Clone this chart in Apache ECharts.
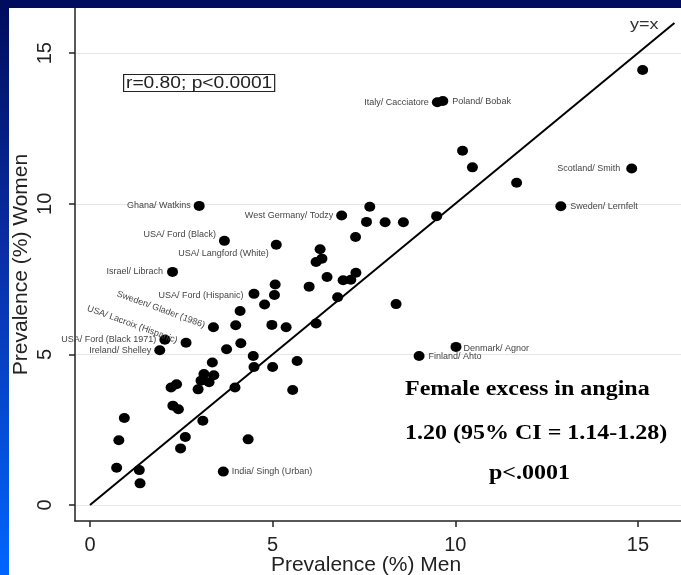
<!DOCTYPE html>
<html>
<head>
    <meta charset="UTF-8">
    <title></title>
    <style>
        body {
            margin: 0;
            width: 681px;
            height: 575px;
            overflow: hidden;
            background: linear-gradient(to bottom, #000c5c 0%, #0a2fa8 45%, #0066ff 100%);
        }
        #container {
            position: absolute;
            left: 9px;
            top: 8px;
            width: 672px;
            height: 567px;
            background: #fff;
        }
    </style>
</head>
<body>
    <div id="container"></div>
    <script src="https://cdn.jsdelivr.net/npm/echarts@6/dist/echarts.min.js"></script>
    <script>
        // prevalence of angina (%), one entry per study
        var menPrev = [15.13, 9.51, 9.66, 10.20, 10.47, 11.68, 14.83, 12.89, 9.49, 2.99,
            6.89, 7.66, 7.57, 8.08, 8.58, 7.27, 3.68, 5.10, 6.30, 6.35,
            6.19, 6.49, 7.28, 6.93, 7.14, 2.26, 5.07, 6.00, 4.49, 5.05,
            6.78, 4.78, 8.38, 4.11, 3.38, 3.99, 4.98, 5.37, 6.19, 2.63,
            2.05, 1.91, 3.74, 4.13, 4.47, 3.35, 4.49, 5.00, 5.67, 5.55,
            10.02, 9.01, 3.12, 3.39, 3.04, 3.26, 2.96, 2.37, 2.22, 3.97,
            2.27, 2.42, 0.94, 3.09, 0.79, 2.61, 2.48, 4.33, 0.73, 1.35,
            1.37, 3.65];
        var womenPrev = [14.44, 13.37, 13.41, 11.76, 11.21, 10.70, 11.17, 9.92, 9.59, 9.93,
            9.61, 9.90, 9.40, 9.39, 9.39, 8.90, 8.77, 8.64, 8.49, 8.18,
            8.07, 7.57, 7.71, 7.46, 7.48, 7.74, 7.32, 7.25, 7.01, 6.97,
            6.90, 6.66, 6.67, 6.44, 5.90, 5.97, 5.98, 5.90, 6.03, 5.39,
            5.49, 5.14, 5.17, 5.37, 4.95, 4.73, 4.58, 4.58, 4.78, 3.82,
            5.25, 4.95, 4.35, 4.31, 4.13, 4.08, 3.84, 4.01, 3.90, 3.90,
            3.30, 3.18, 2.89, 2.80, 2.15, 2.26, 1.88, 2.18, 1.24, 1.16,
            0.72, 1.11];
        var studyNames = ['', 'Italy/ Cacciatore', 'Poland/ Bobak', '', '', '', 'Scotland/ Smith', 'Sweden/ Lernfelt', '', 'Ghana/ Watkins',
            'West Germany/ Todzy', '', '', '', '', '', 'USA/ Ford (Black)', 'USA/ Langford (White)', '', '',
            '', '', '', '', '', 'Israel/ Librach', '', '', 'USA/ Ford (Hispanic)', '',
            '', '', '', '', 'Sweden/ Glader (1986)', '', '', '', '', 'USA/ Lacroix (Hispanic)',
            'USA/ Ford (Black 1971)', 'Ireland/ Shelley', '', '', '', '', '', '', '', '',
            'Denmark/ Agnor', 'Finland/ Ahto', '', '', '', '', '', '', '', '',
            '', '', '', '', '', '', '', '', '', '',
            '', 'India/ Singh (Urban)'];
        var xTicks = [0, 5, 10, 15];
        var yTicks = [0, 5, 10, 15];
        var identityLine = [[0, 0], [16, 16]];

        // where each study label sits next to its dot
        var labelPlace = {
            'Italy/ Cacciatore': { position: 'left', distance: 3 },
            'Poland/ Bobak': { position: 'right', distance: 4 },
            'Scotland/ Smith': { position: 'left', distance: 6 },
            'Sweden/ Lernfelt': { position: 'right', distance: 4 },
            'Ghana/ Watkins': { position: 'left', distance: 3 },
            'West Germany/ Todzy': { position: 'left', distance: 3 },
            'USA/ Ford (Black)': { position: 'left', distance: 3, offset: [0, -6] },
            'USA/ Langford (White)': { position: 'left', distance: 2, offset: [0, 9] },
            'Israel/ Librach': { position: 'left', distance: 4 },
            'USA/ Ford (Hispanic)': { position: 'left', distance: 5, offset: [0, 2] },
            'Sweden/ Glader (1986)': { position: 'left', distance: 4, rotate: -20, offset: [0, -2] },
            'USA/ Lacroix (Hispanic)': { position: 'left', distance: 4, rotate: -20, offset: [0, -2] },
            'USA/ Ford (Black 1971)': { position: 'left', distance: 3 },
            'Ireland/ Shelley': { position: 'left', distance: 3 },
            'Denmark/ Agnor': { position: 'right', distance: 2, offset: [0, 2] },
            'Finland/ Ahto': { position: 'right', distance: 4, offset: [0, 1] },
            'India/ Singh (Urban)': { position: 'right', distance: 3 }
        };

        var points = [];
        for (var i = 0; i < menPrev.length; i++) {
            var item = { value: [menPrev[i], womenPrev[i]] };
            var name = studyNames[i];
            if (name) {
                var p = labelPlace[name];
                item.label = {
                    show: true,
                    formatter: name,
                    position: p.position,
                    distance: p.distance,
                    rotate: p.rotate || 0,
                    offset: p.offset || [0, 0]
                };
            }
            points.push(item);
        }

        var serifBold = {
            fontFamily: 'Liberation Serif',
            fontWeight: 'bold',
            fontSize: 20,
            fill: '#000',
            textVerticalAlign: 'middle'
        };

        var myChart = echarts.init(document.getElementById('container'));
        myChart.setOption({
            animation: false,
            backgroundColor: '#fff',
            textStyle: { fontFamily: 'Liberation Sans' },
            grid: { left: 66, right: 0, top: 0, bottom: 54, containLabel: false, outerBoundsMode: 'none' },
            xAxis: {
                type: 'value',
                min: -0.41,
                max: 16.18,
                name: 'Prevalence (%) Men',
                nameLocation: 'middle',
                nameGap: 34,
                nameMoveOverlap: false,
                nameTextStyle: { fontSize: 21, color: '#222', padding: [0, 24, 0, 0] },
                axisLine: { show: true, onZero: false, lineStyle: { color: '#222', width: 1.5 } },
                axisTick: { show: true, length: 6, customValues: xTicks, lineStyle: { color: '#222', width: 1.5 } },
                axisLabel: { customValues: xTicks, fontSize: 20, color: '#222', margin: 14 },
                splitLine: { show: false }
            },
            yAxis: {
                type: 'value',
                min: -0.53,
                max: 16.5,
                name: 'Prevalence (%) Women',
                nameLocation: 'middle',
                nameRotate: 90,
                nameGap: 43,
                nameMoveOverlap: false,
                nameTextStyle: { fontSize: 21, color: '#222' },
                axisLine: { show: true, onZero: false, lineStyle: { color: '#222', width: 1.5 } },
                axisTick: { show: true, length: 6, customValues: yTicks, lineStyle: { color: '#222', width: 1.5 } },
                axisLabel: { customValues: yTicks, rotate: 90, fontSize: 20, color: '#222', margin: 20 },
                splitLine: { show: false }
            },
            graphic: [
                {
                    type: 'text', left: 114, top: 66, scaleX: 1.2,
                    style: {
                        text: 'r=0.80; p<0.0001', fontFamily: 'Liberation Sans', fontSize: 16, fill: '#222',
                        borderColor: '#222', borderWidth: 1, padding: [1, 2, 0, 2]
                    }
                },
                {
                    type: 'text', x: 621, y: 17, scaleX: 1.2,
                    style: { text: 'y=x', fontFamily: 'Liberation Sans', fontSize: 15, fill: '#333', textVerticalAlign: 'middle' }
                },
                { type: 'text', x: 396, y: 382, scaleX: 1.2, style: Object.assign({ text: 'Female excess in angina' }, serifBold) },
                { type: 'text', x: 396, y: 426, scaleX: 1.2, style: Object.assign({ text: '1.20 (95% CI = 1.14-1.28)' }, serifBold) },
                { type: 'text', x: 480, y: 466, scaleX: 1.2, style: Object.assign({ text: 'p<.0001' }, serifBold) }
            ],
            series: [
                {
                    // faint horizontal rules at the y ticks
                    type: 'line',
                    data: [],
                    silent: true,
                    markLine: {
                        silent: true,
                        z: 0,
                        symbol: 'none',
                        label: { show: false },
                        lineStyle: { color: '#e6e6e6', width: 1, type: 'solid' },
                        data: yTicks.map(function (v) { return { yAxis: v }; })
                    },
                    z: 0
                },
                {
                    type: 'line',
                    data: identityLine,
                    symbol: 'none',
                    silent: true,
                    lineStyle: { color: '#000', width: 2 },
                    z: 2
                },
                {
                    type: 'scatter',
                    data: points,
                    symbol: 'circle',
                    symbolSize: [11, 10],
                    itemStyle: { color: '#000', opacity: 1 },
                    label: { fontSize: 9, color: '#444', fontFamily: 'Liberation Sans' },
                    z: 3
                }
            ]
        });
    </script>
</body>
</html>
